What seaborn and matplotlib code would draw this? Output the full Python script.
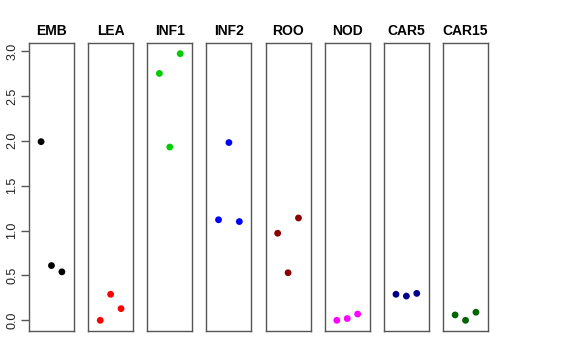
import matplotlib
matplotlib.use("Agg")
import matplotlib.pyplot as plt
import seaborn as sns
import pandas as pd

tissues = ["EMB", "LEA", "INF1", "INF2", "ROO", "NOD", "CAR5", "CAR15"]
colors = ["#000000", "#FF0000", "#00CD00", "#0000FF", "#8B0000", "#FF00FF", "#00008B", "#006400"]
replicate = [1, 2, 3]
emb = [1.99, 0.61, 0.54]
lea = [0.00, 0.29, 0.13]
inf1 = [2.75, 1.93, 2.97]
inf2 = [1.12, 1.98, 1.10]
roo = [0.97, 0.53, 1.14]
nod = [0.00, 0.02, 0.07]
car5 = [0.29, 0.27, 0.30]
car15 = [0.06, 0.00, 0.09]
values = [emb, lea, inf1, inf2, roo, nod, car5, car15]
yticks = [0.0, 0.5, 1.0, 1.5, 2.0, 2.5, 3.0]

rows = []
for t, vals in zip(tissues, values):
    for r, v in zip(replicate, vals):
        rows.append({"tissue": t, "rep": r, "value": v})
df = pd.DataFrame(rows)

sns.set_style("white")
plt.rcParams["font.family"] = ["Liberation Sans", "DejaVu Sans"]
plt.rcParams["text.color"] = "black"
plt.rcParams["ytick.color"] = "black"

fig, axes = plt.subplots(1, 8, figsize=(5.76, 3.6), dpi=100, sharey=True)
fig.subplots_adjust(left=29/576, right=488/576, top=1-43/360, bottom=1-331/360, wspace=0.316)

for i, (ax, t, c) in enumerate(zip(axes, tissues, colors)):
    sub = df[df["tissue"] == t]
    sns.scatterplot(data=sub, x="rep", y="value", color=c, s=24, edgecolor="none", ax=ax, legend=False)
    ax.set_xlim(-0.16, 4.16)
    ax.set_ylim(-0.119, 3.089)
    ax.set_xticks([])
    ax.set_xlabel("")
    ax.set_ylabel("")
    ax.set_title(t, fontsize=10, fontweight="bold", pad=6, color="black")
    for sp in ax.spines.values():
        sp.set_visible(True)
        sp.set_color("#555555")
        sp.set_linewidth(1.0)
    if i == 0:
        ax.set_yticks(yticks)
        ax.set_yticklabels([f"{v:.1f}" for v in yticks], rotation=90, va="center", fontsize=9, color="#222222")
        ax.tick_params(axis="y", left=True, length=5.8, width=1.0, color="#555555", pad=2)
    else:
        ax.tick_params(axis="y", left=False, labelleft=False)

fig.savefig("out.png", dpi=100)
